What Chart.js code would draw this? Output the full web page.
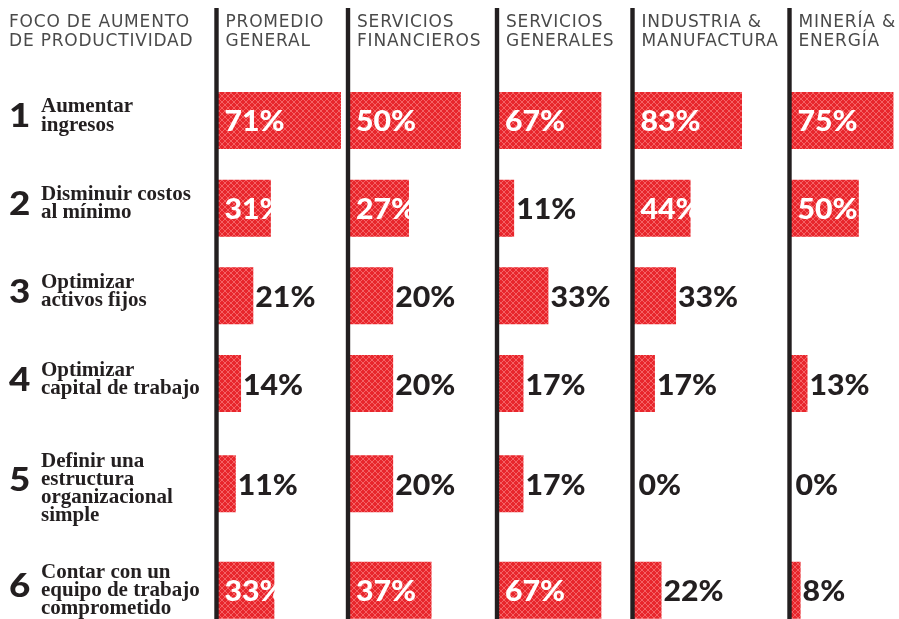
<!DOCTYPE html>
<html><head><meta charset="utf-8">
<script src="https://cdn.jsdelivr.net/npm/chart.js@4.4.1/dist/chart.umd.min.js"></script>
<style>html,body{margin:0;padding:0;background:#fff;}canvas{display:block;}</style>
</head><body>
<canvas id="c" width="899" height="619"></canvas>
<script>
// ---------- data ----------
const rowNumbers = ['1', '2', '3', '4', '5', '6'];
const rowLabels = [
  ['Aumentar', 'ingresos'],
  ['Disminuir costos', 'al mínimo'],
  ['Optimizar', 'activos fijos'],
  ['Optimizar', 'capital de trabajo'],
  ['Definir una', 'estructura', 'organizacional', 'simple'],
  ['Contar con un', 'equipo de trabajo', 'comprometido']
];
const rowHeader = ['FOCO DE AUMENTO', 'DE PRODUCTIVIDAD'];
const sectorHeaders = [
  ['PROMEDIO', 'GENERAL'],
  ['SERVICIOS', 'FINANCIEROS'],
  ['SERVICIOS', 'GENERALES'],
  ['INDUSTRIA &', 'MANUFACTURA'],
  ['MINERÍA &', 'ENERGÍA']
];
const promedioGeneral      = [71, 31, 21, 14, 11, 33];
const serviciosFinancieros = [50, 27, 20, 20, 20, 37];
const serviciosGenerales   = [67, 11, 33, 17, 17, 67];
const industriaManufactura = [83, 44, 33, 17, 0, 22];
const mineriaEnergia       = [75, 50, null, 13, 0, 8];
const sectorValues = [promedioGeneral, serviciosFinancieros, serviciosGenerales, industriaManufactura, mineriaEnergia];

// ---------- layout / style ----------
const PANEL_WIDTHS = [131.5, 149, 135.5, 157, 109.5];
const PANEL_MAX = [75, 66, 87, 119, 79];
const ROW_BASE = 62.7, ROW_PER_LINE = 12.5;   // row height in px from number of label lines
const INK = '#231f20';
const HEAD_COLOR = '#4a4a4a';
const VALUE_FONT = '900 28px Lato, "Open Sans", sans-serif';
const VALUE_STRETCH = 1.08;
const INSIDE_RATIO = 0.89;
const NUM_FONT = '900 32px Lato, "Open Sans", sans-serif';
const NUM_STRETCH = 1.15;
const LABEL_FONT = 'bold 21px "Liberation Serif", "DejaVu Serif", serif';
const HEAD_FONT = '17px "DejaVu Sans", sans-serif';

class RowScale extends Chart.CategoryScale {
  _weights() {
    return rowLabels.map(l => ROW_BASE + ROW_PER_LINE * l.length);
  }
  getPixelForValue(value) {
    if (typeof value !== 'number') value = this.parse(value);
    if (value === null || isNaN(value)) return NaN;
    const w = this._weights();
    let cum = 0;
    for (let i = 0; i < value; i++) cum += w[i];
    cum += w[value] / 2;
    return this.top + cum;
  }
  getPixelForTick(index) { return this.getPixelForValue(index); }
}
RowScale.id = 'rowScale';
RowScale.defaults = Chart.CategoryScale.defaults;
Chart.register(RowScale);

function makePattern(ctx) {
  const c = document.createElement('canvas');
  c.width = 6; c.height = 6;
  const g = c.getContext('2d');
  g.fillStyle = '#e8262c';
  g.fillRect(0, 0, 6, 6);
  g.strokeStyle = 'rgba(255,150,150,0.6)';
  g.lineWidth = 0.9;
  g.beginPath();
  g.moveTo(0, 0); g.lineTo(6, 6);
  g.moveTo(6, 0); g.lineTo(0, 6);
  g.stroke();
  return ctx.createPattern(c, 'repeat');
}

const canvas = document.getElementById('c');
const pattern = makePattern(canvas.getContext('2d'));

const scales = {
  y: { type: 'rowScale', display: false }
};
sectorValues.forEach((_, k) => {
  scales['x' + k] = {
    type: 'linear', axis: 'x', position: 'bottom', stack: 'panels',
    stackWeight: PANEL_WIDTHS[k], min: 0, max: PANEL_MAX[k], display: false
  };
});

const datasets = sectorValues.map((vals, k) => ({
  label: sectorHeaders[k].join(' '),
  data: vals,
  xAxisID: 'x' + k,
  yAxisID: 'y',
  grouped: false,
  backgroundColor: pattern,
  borderWidth: 0,
  categoryPercentage: 1,
  barPercentage: 0.65
}));

function stretchText(ctx, txt, x, y, sx) {
  ctx.save();
  ctx.translate(x, y);
  ctx.scale(sx, 1);
  ctx.fillText(txt, 0, 0);
  ctx.restore();
}

const decorPlugin = {
  id: 'decor',
  afterDatasetsDraw(chart) {
    const ctx = chart.ctx;
    const yScale = chart.scales.y;
    ctx.save();
    ctx.textBaseline = 'alphabetic';
    ctx.textAlign = 'left';
    // headers
    ctx.fillStyle = HEAD_COLOR;
    ctx.font = HEAD_FONT;
    try { ctx.letterSpacing = '0.8px'; } catch (e) {}
    rowHeader.forEach((t, i) => ctx.fillText(t, 9, 27 + i * 19));
    sectorHeaders.forEach((h, k) => {
      const s = chart.scales['x' + k];
      h.forEach((t, i) => ctx.fillText(t, s.left + 9, 27 + i * 19));
    });
    try { ctx.letterSpacing = '0px'; } catch (e) {}
    // vertical separators
    ctx.fillStyle = INK;
    sectorValues.forEach((_, k) => {
      const s = chart.scales['x' + k];
      ctx.fillRect(s.left - 2.2, 8, 4.4, 619 - 8);
    });
    // row numbers and labels
    rowLabels.forEach((lines, i) => {
      const cy = yScale.getPixelForValue(i);
      ctx.fillStyle = INK;
      ctx.font = NUM_FONT;
      stretchText(ctx, rowNumbers[i], 9, cy + 7, NUM_STRETCH);
      ctx.font = LABEL_FONT;
      const first = cy - 8 - (lines.length - 2) * 4.5;
      lines.forEach((t, j) => ctx.fillText(t, 41, first + j * 18.2));
    });
    // value labels
    ctx.font = VALUE_FONT;
    ctx.textBaseline = 'middle';
    chart.data.datasets.forEach((ds, d) => {
      const meta = chart.getDatasetMeta(d);
      meta.data.forEach((bar, i) => {
        const v = ds.data[i];
        if (v === null || v === undefined) return;
        const txt = v + '%';
        const tw = ctx.measureText(txt).width * VALUE_STRETCH;
        const bw = bar.x - bar.base;
        const inside = bw >= INSIDE_RATIO * tw;
        if (inside) {
          ctx.fillStyle = '#ffffff';
          stretchText(ctx, txt, bar.base + 8, bar.y + 2, VALUE_STRETCH);
        } else {
          ctx.fillStyle = INK;
          stretchText(ctx, txt, Math.max(bar.x + 2, bar.base + 6), bar.y + 2, VALUE_STRETCH);
        }
      });
    });
    ctx.restore();
  }
};

new Chart(canvas, {
  type: 'bar',
  data: { labels: rowLabels.map(l => l.join(' ')), datasets },
  options: {
    indexAxis: 'y',
    responsive: false,
    animation: false,
    layout: { padding: { left: 216.5, right: 0, top: 76.6, bottom: 0 } },
    plugins: { legend: { display: false }, tooltip: { enabled: false } },
    scales
  },
  plugins: [decorPlugin]
});
</script>
</body></html>
